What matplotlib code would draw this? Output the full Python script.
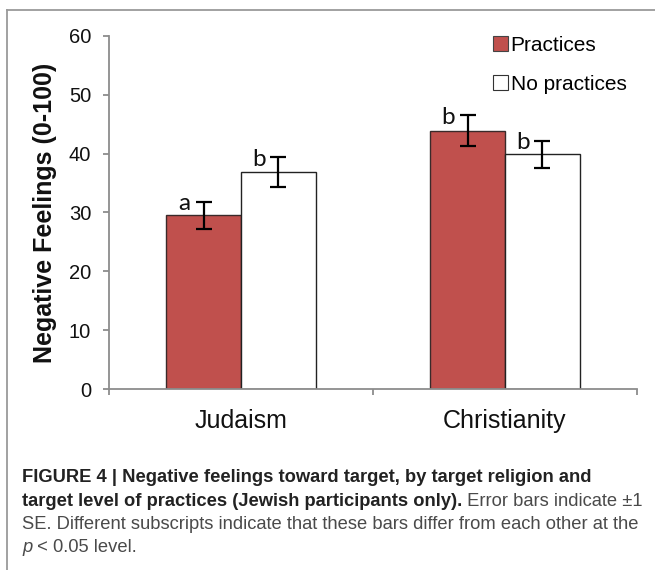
import matplotlib
matplotlib.use('Agg')
import matplotlib.pyplot as plt
from matplotlib.patches import Patch
from matplotlib.lines import Line2D
import numpy as np

plt.rcParams['font.family'] = ['Liberation Sans', 'DejaVu Sans']

# data
religions = ['Judaism', 'Christianity']
practices = [29.5, 43.9]
no_practices = [36.9, 39.9]
se_practices = [2.35, 2.6]
se_no_practices = [2.5, 2.3]
letters_practices = ['a', 'b']
letters_no_practices = ['b', 'b']
series_names = ['Practices', 'No practices']

red = '#C0504D'
grey = '#8c8c8c'

W, H = 655, 570
fig = plt.figure(figsize=(W / 100, H / 100), dpi=100)
ax = fig.add_axes([109 / W, 1 - 389.3 / H, (637 - 109) / W, (389.3 - 35.7) / H])

x = np.arange(len(religions))
w = 0.284
ax.bar(x - w / 2, practices, w, color=red, edgecolor='#3a2a2a', linewidth=1)
ax.bar(x + w / 2, no_practices, w, color='white', edgecolor='#222222', linewidth=1)
ax.errorbar(x - w / 2, practices, yerr=se_practices, fmt='none', ecolor='black',
            elinewidth=1.6, capsize=5.5, capthick=1.6)
ax.errorbar(x + w / 2, no_practices, yerr=se_no_practices, fmt='none', ecolor='black',
            elinewidth=1.6, capsize=5.5, capthick=1.6)

# significance letters next to the error bar tops
for xs, vals, ses, lets in [(x - w / 2, practices, se_practices, letters_practices),
                            (x + w / 2, no_practices, se_no_practices, letters_no_practices)]:
    for xi, v, s, l in zip(xs, vals, ses, lets):
        ax.annotate(l, (xi, v + s), xytext=(-14, -6.3), textcoords='offset points',
                    ha='center', va='baseline', fontsize=17.5, family=['Lato', 'DejaVu Sans'],
                    color='#111111')

ax.set_xlim(-0.5, 1.5)
ax.set_ylim(0, 60)
ax.set_yticks(np.arange(0, 61, 10))
ax.set_xticks(x)
ax.set_xticklabels(religions)
ax.set_xticks([-0.5, 0.5, 1.5], minor=True)

for s in ['top', 'right']:
    ax.spines[s].set_visible(False)
for s in ['left', 'bottom']:
    ax.spines[s].set_color(grey)
    ax.spines[s].set_linewidth(1.3)

ax.tick_params(axis='y', direction='out', length=4.3, width=1.3, color=grey,
               labelsize=14.5, pad=8.5, labelcolor='#111111')
ax.tick_params(axis='x', which='major', length=0, labelsize=18, pad=14, labelcolor='#111111')
ax.tick_params(axis='x', which='minor', direction='out', length=4.5, width=1.3, color=grey)

fig.text(45.5 / W, 1 - 213 / H, 'Negative Feelings (0-100)', rotation=90, ha='center',
         va='center', fontsize=18, fontweight='bold', color='#111111')

handles = [Patch(facecolor=red, edgecolor='#444444', linewidth=0.8),
           Patch(facecolor='white', edgecolor='#333333', linewidth=0.8)]
fig.legend(handles, series_names, loc='upper left', bbox_to_anchor=(493 / W, 1 - 36 / H),
           frameon=False, fontsize=15, handlelength=0.7, handleheight=0.7,
           handletextpad=0.15, labelspacing=0.95, borderpad=0, borderaxespad=0)

# frame around the figure panel
fig.add_artist(Line2D([7 / W, 7 / W], [1 - 10 / H, 0], color='#9a9a9a', lw=1.3))
fig.add_artist(Line2D([7 / W, 1], [1 - 10 / H, 1 - 10 / H], color='#9a9a9a', lw=1.3))

# caption
renderer = fig.canvas.get_renderer()
cap_fs = 13.2
x0 = 22 / W
base = [481.7, 505.7, 529.0, 552.3]


def put(parts, y):
    xx = x0
    for txt, kw in parts:
        t = fig.text(xx, 1 - y / H, txt, fontsize=cap_fs, va='baseline', ha='left', **kw)
        bb = t.get_window_extent(renderer)
        xx += bb.width / W


bold = dict(fontweight='bold', color='#222222')
reg = dict(color='#4a4a4a')
put([('FIGURE 4 | Negative feelings toward target, by target religion and', bold)], base[0])
put([('target level of practices (Jewish participants only).', bold),
     (' Error bars indicate \u00b11', reg)], base[1])
put([('SE. Different subscripts indicate that these bars differ from each other at the', reg)], base[2])
put([('p', dict(color='#4a4a4a', style='italic')), (' < 0.05 level.', reg)], base[3])

fig.savefig('out.png', dpi=100)
